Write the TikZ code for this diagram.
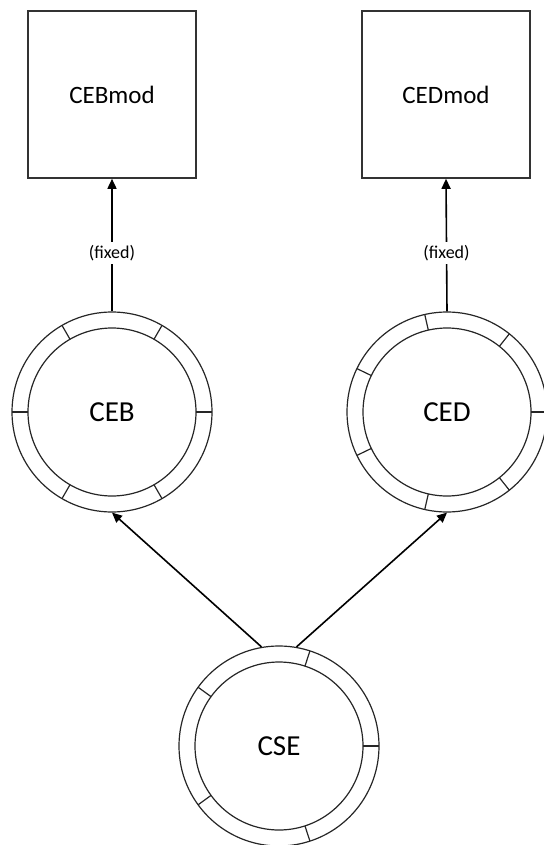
\documentclass[tikz,border=0pt]{standalone}
\usepackage{fontspec}
\setmainfont{Carlito}
\usetikzlibrary{arrows.meta}

\tikzset{
  modbox/.style={draw=black!80, line width=0.8pt, minimum width=84pt,
    minimum height=83.5pt, inner sep=0pt, font=\fontsize{12.5}{15}\selectfont},
  ring/.style={draw=black!85, line width=0.6pt, circle, minimum size=100pt,
    inner sep=0pt, font=\fontsize{14.5}{17}\selectfont},
  link/.style={-{Triangle[length=5pt,width=4.5pt]}, line width=0.8pt},
  fixlabel/.style={fill=white, inner sep=1.5pt, font=\fontsize{9}{11}\selectfont}
}
% inner circle of a ring node and the ticks that split it into #2 parts
\newcommand{\segring}[2]{%
  \draw [black!85, line width=0.6pt] (#1.center) circle [radius=42pt];
  \foreach \k in {1,...,#2}
    \draw [black!85, line width=0.6pt] (#1.center) ++({360/#2*(\k-1)}:42pt) -- ++({360/#2*(\k-1)}:8pt);
}

\begin{document}
\begin{tikzpicture}[x=0.5pt,y=-0.5pt]
  \useasboundingbox (0,0) rectangle (544,845);

  \node [modbox] (cebmod) at (112,94.5) {CEBmod};
  \node [modbox] (cedmod) at (446,94.5) {CEDmod};

  \node [ring] (ceb) at (112,412) {CEB};
  \node [ring] (ced) at (447,412) {CED};
  \node [ring] (cse) at (279,746) {CSE};

  \segring{ceb}{6}
  \segring{ced}{7}
  \segring{cse}{5}

  \draw [link] (ceb.north) -- node [fixlabel, pos=0.44] {(fixed)} (cebmod.south);
  \draw [link] (ced.north) -- node [fixlabel, pos=0.44] {(fixed)} (cedmod.south);

  \draw [link] (cse.100) -- (ceb.south);
  \draw [link] (cse.80) -- (ced.south);
\end{tikzpicture}
\end{document}
